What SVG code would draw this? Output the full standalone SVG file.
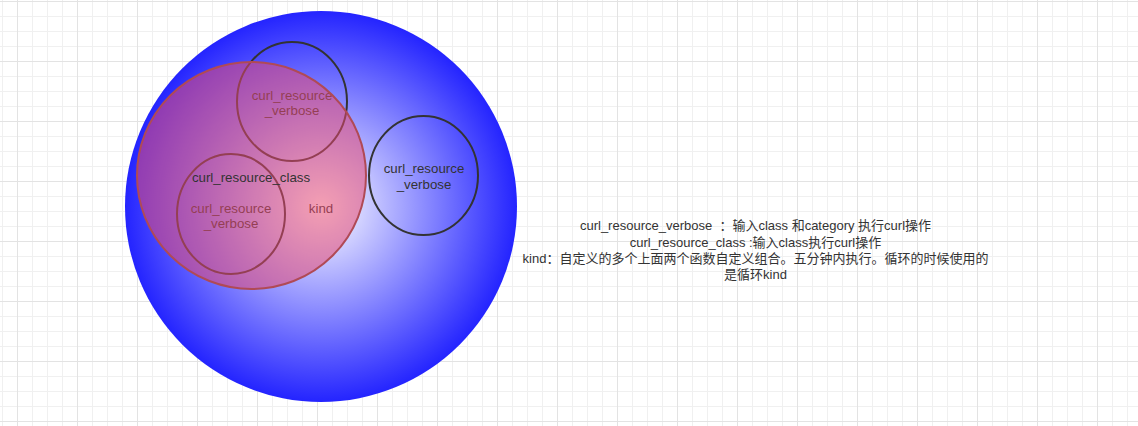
<svg xmlns="http://www.w3.org/2000/svg" width="1138" height="426" viewBox="0 0 1138 426">
<defs>
<pattern id="grid" patternUnits="userSpaceOnUse" x="17" y="1" width="60" height="60">
<rect x="0" y="0" width="60" height="60" fill="#ffffff"/>
<rect x="15" y="0" width="1" height="60" fill="#f0f0f0"/>
<rect x="30" y="0" width="1" height="60" fill="#f0f0f0"/>
<rect x="45" y="0" width="1" height="60" fill="#f0f0f0"/>
<rect x="0" y="15" width="60" height="1" fill="#f0f0f0"/>
<rect x="0" y="30" width="60" height="1" fill="#f0f0f0"/>
<rect x="0" y="45" width="60" height="1" fill="#f0f0f0"/>
<rect x="0" y="0" width="1" height="60" fill="#e3e3e3"/>
<rect x="0" y="0" width="60" height="1" fill="#e3e3e3"/>
</pattern>
<radialGradient id="blueGrad" cx="50%" cy="50%" r="50%">
<stop offset="0" stop-color="#ffffff"/>
<stop offset="1" stop-color="#2424ff"/>
</radialGradient>
<style>
.lbl{font-family:"Liberation Sans","Noto Sans CJK SC",sans-serif;font-size:13.3px;fill:#333333;text-anchor:middle;white-space:pre}
.note{font-size:13px}
.ring{fill:none;stroke:#333333;stroke-width:2}
</style>
</defs>
<rect x="0" y="0" width="1138" height="426" fill="url(#grid)"/>
<g id="node-kind">
<ellipse cx="321" cy="206.5" rx="196" ry="195.5" fill="url(#blueGrad)"/>
<text class="lbl" x="321" y="213">kind</text>
</g>
<g id="node-verbose-top">
<ellipse class="ring" cx="292" cy="101.5" rx="55" ry="59.5"/>
<text class="lbl" x="292" y="100">curl_resource</text>
<text class="lbl" x="292" y="115">_verbose</text>
</g>
<g id="node-verbose-bottom">
<ellipse class="ring" cx="231" cy="214" rx="54" ry="60"/>
<text class="lbl" x="231" y="212.5">curl_resource</text>
<text class="lbl" x="231" y="228">_verbose</text>
</g>
<g id="node-verbose-right">
<ellipse class="ring" cx="423.5" cy="175.5" rx="54.5" ry="59.5"/>
<text class="lbl" x="424" y="173">curl_resource</text>
<text class="lbl" x="424" y="189">_verbose</text>
</g>
<g id="node-class">
<ellipse cx="251.5" cy="175.5" rx="114.5" ry="113.5" fill="#ea4a70" fill-opacity="0.53" stroke="#b04a55" stroke-width="2"/>
<text class="lbl" x="251" y="181.5">curl_resource_class</text>
</g>
<g id="connectors"></g>
<g id="note">
<text class="lbl note" x="755.5" y="230">curl_resource_verbose  ：输入class 和category 执行curl操作</text>
<text class="lbl note" x="755.5" y="246.5">curl_resource_class :输入class执行curl操作</text>
<text class="lbl note" x="755.5" y="262.5">kind：自定义的多个上面两个函数自定义组合。五分钟内执行。循环的时候使用的</text>
<text class="lbl note" x="755.5" y="278.5">是循环kind</text>
</g>
</svg>
